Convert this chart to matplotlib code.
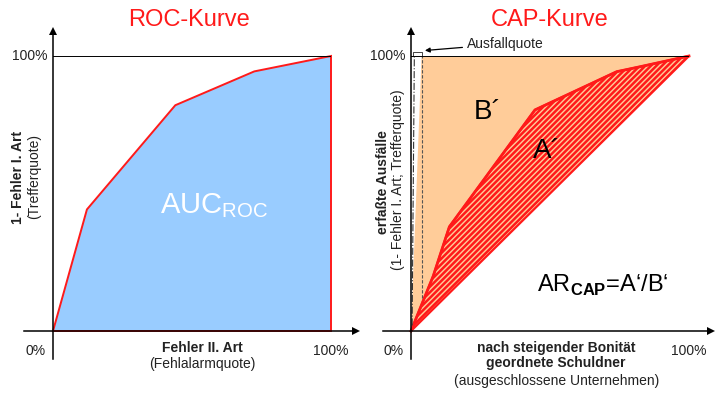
import matplotlib
matplotlib.use("Agg")
import matplotlib.pyplot as plt

plt.rcParams['font.family'] = ['Liberation Sans', 'DejaVu Sans']
plt.rcParams['mathtext.fontset'] = 'custom'
plt.rcParams['mathtext.rm'] = 'Liberation Sans'
plt.rcParams['mathtext.bf'] = 'Liberation Sans:bold'
plt.rcParams['hatch.linewidth'] = 1.8

# ROC curve (false alarm rate vs hit rate)
roc_fpr = [0, 0.122, 0.44, 0.724, 1.0]
roc_tpr = [0, 0.442, 0.821, 0.944, 1.0]

# CAP curve (share of debtors vs captured defaults)
cap_x = [0, 0.08, 0.138, 0.446, 0.74, 0.824, 1.0]
cap_y = [0, 0.2, 0.379, 0.804, 0.943, 0.961, 1.0]
default_rate = 0.038

tick_labels = ['0%', '100%']

RED = '#ff1a1a'
BLUE = '#99ccff'
ORANGE = '#ffcc99'
TXT = '#222222'

fig = plt.figure(figsize=(7.22, 3.94), dpi=100)
ax_roc = fig.add_axes([53 / 722, 63 / 394, 278 / 722, 275 / 394])
ax_cap = fig.add_axes([411 / 722, 63 / 394, 278 / 722, 275 / 394])


def draw_frame(ax, x_left, x_right):
    # axes with arrow heads, reaching a bit past the unit square
    ax.set_xlim(0, 1)
    ax.set_ylim(0, 1)
    ax.axis('off')
    ax.plot([x_left, x_right], [0, 0], color='black', lw=1.1,
            clip_on=False, zorder=6)
    ax.plot([0, 0], [-0.102, 1.09], color='black', lw=1.1,
            clip_on=False, zorder=6)
    ax.plot([x_right], [0], marker='>', ms=6, color='black', mew=0,
            clip_on=False, zorder=6)
    ax.plot([0], [1.09], marker='^', ms=6, color='black', mew=0,
            clip_on=False, zorder=6)
    ax.plot([0, 1], [1, 1], color='black', lw=0.7, zorder=5)
    # percentage marks
    ax.text(-0.018, 1.0, tick_labels[1], ha='right', va='center',
            fontsize=10, color=TXT)
    ax.text(-0.063, -0.073, tick_labels[0], ha='center', va='center',
            fontsize=10, color=TXT)
    ax.text(1.0, -0.073, tick_labels[1], ha='center', va='center',
            fontsize=10, color=TXT)


# ---- ROC panel ----
draw_frame(ax_roc, -0.104, 1.09)
ax_roc.fill(roc_fpr + [1.0], roc_tpr + [0], facecolor=BLUE, edgecolor=RED,
            lw=1.4, zorder=2, clip_on=False)
ax_roc.text(0.49, 1.13, 'ROC-Kurve', ha='center', va='center', fontsize=17,
            color=RED)
ax_roc.text(0.385, 0.43, r'$\mathrm{AUC}_{\mathrm{ROC}}$', ha='left',
            va='baseline', fontsize=21, color='white', zorder=3)
ax_roc.text(0.536, -0.062, 'Fehler II. Art', ha='center', va='center',
            fontsize=10, fontweight='bold', color=TXT)
ax_roc.text(0.536, -0.12, '(Fehlalarmquote)', ha='center', va='center',
            fontsize=10, color=TXT)
ax_roc.text(-0.126, 0.56, '1- Fehler I. Art', ha='center', va='center',
            rotation=90, fontsize=10, fontweight='bold', color=TXT)
ax_roc.text(-0.068, 0.56, '(Trefferquote)', ha='center', va='center',
            rotation=90, fontsize=10, color=TXT)

# ---- CAP panel ----
draw_frame(ax_cap, -0.1, 1.08)
ax_cap.plot([1, 1], [0, 1], color='black', lw=0.7, zorder=5)
# area B' between the perfect model and the random model
ax_cap.fill([0, default_rate, 1], [0, 1, 1], facecolor=ORANGE,
            edgecolor='none', zorder=2)
# area A' between the rating model and the diagonal
ax_cap.fill(cap_x + [0], cap_y + [0], facecolor=ORANGE, edgecolor=RED,
            hatch='//////', lw=1.6, zorder=3, clip_on=False)
ax_cap.plot(cap_x, cap_y, color=RED, lw=2, zorder=4, clip_on=False)
ax_cap.plot([default_rate, default_rate], [0.12, 1.0], color='#555555',
            lw=0.8, ls=(0, (3, 1.5)), zorder=4)
ax_cap.plot([0.004, 0.012], [0.02, 1.0], color='#333333', lw=0.8,
            ls='-.', zorder=4)
# bracket marking the default rate
ax_cap.plot([0.007, 0.007, default_rate, default_rate],
            [1.0, 1.016, 1.016, 1.0], color='#444444', lw=0.7,
            clip_on=False)
ax_cap.annotate('Ausfallquote', xy=(0.05, 1.02), xytext=(0.2, 1.044),
                ha='left', va='center', fontsize=10, color=TXT,
                annotation_clip=False,
                arrowprops=dict(arrowstyle='-|>', color='black', lw=0.9,
                                mutation_scale=7, shrinkA=1, shrinkB=0))
ax_cap.text(0.5, 1.13, 'CAP-Kurve', ha='center', va='center', fontsize=17,
            color=RED)
ax_cap.text(0.277, 0.796, 'B\u00b4', ha='center', va='center', fontsize=20,
            color='black', zorder=5)
ax_cap.text(0.49, 0.655, 'A\u00b4', ha='center', va='center', fontsize=20,
            color='black', zorder=5)
ax_cap.text(0.453, 0.142, r'$\mathrm{AR}_{\mathbf{CAP}}$' + '=A\u2018/B\u2018',
            ha='left', va='baseline', fontsize=17, color='black', zorder=5)
ax_cap.text(0.522, -0.062, 'nach steigender Bonität', ha='center',
            va='center', fontsize=10, fontweight='bold', color=TXT)
ax_cap.text(0.522, -0.116, 'geordnete Schuldner', ha='center', va='center',
            fontsize=10, fontweight='bold', color=TXT)
ax_cap.text(0.525, -0.18, '(ausgeschlossene Unternehmen)', ha='center',
            va='center', fontsize=10, color=TXT)
ax_cap.text(-0.1, 0.54, 'erfaßte Ausfälle', ha='center', va='center',
            rotation=90, fontsize=10, fontweight='bold', color=TXT)
ax_cap.text(-0.047, 0.55, '(1- Fehler I. Art; Trefferquote)', ha='center',
            va='center', rotation=90, fontsize=10, color=TXT)

fig.savefig('out.png', dpi=100)
